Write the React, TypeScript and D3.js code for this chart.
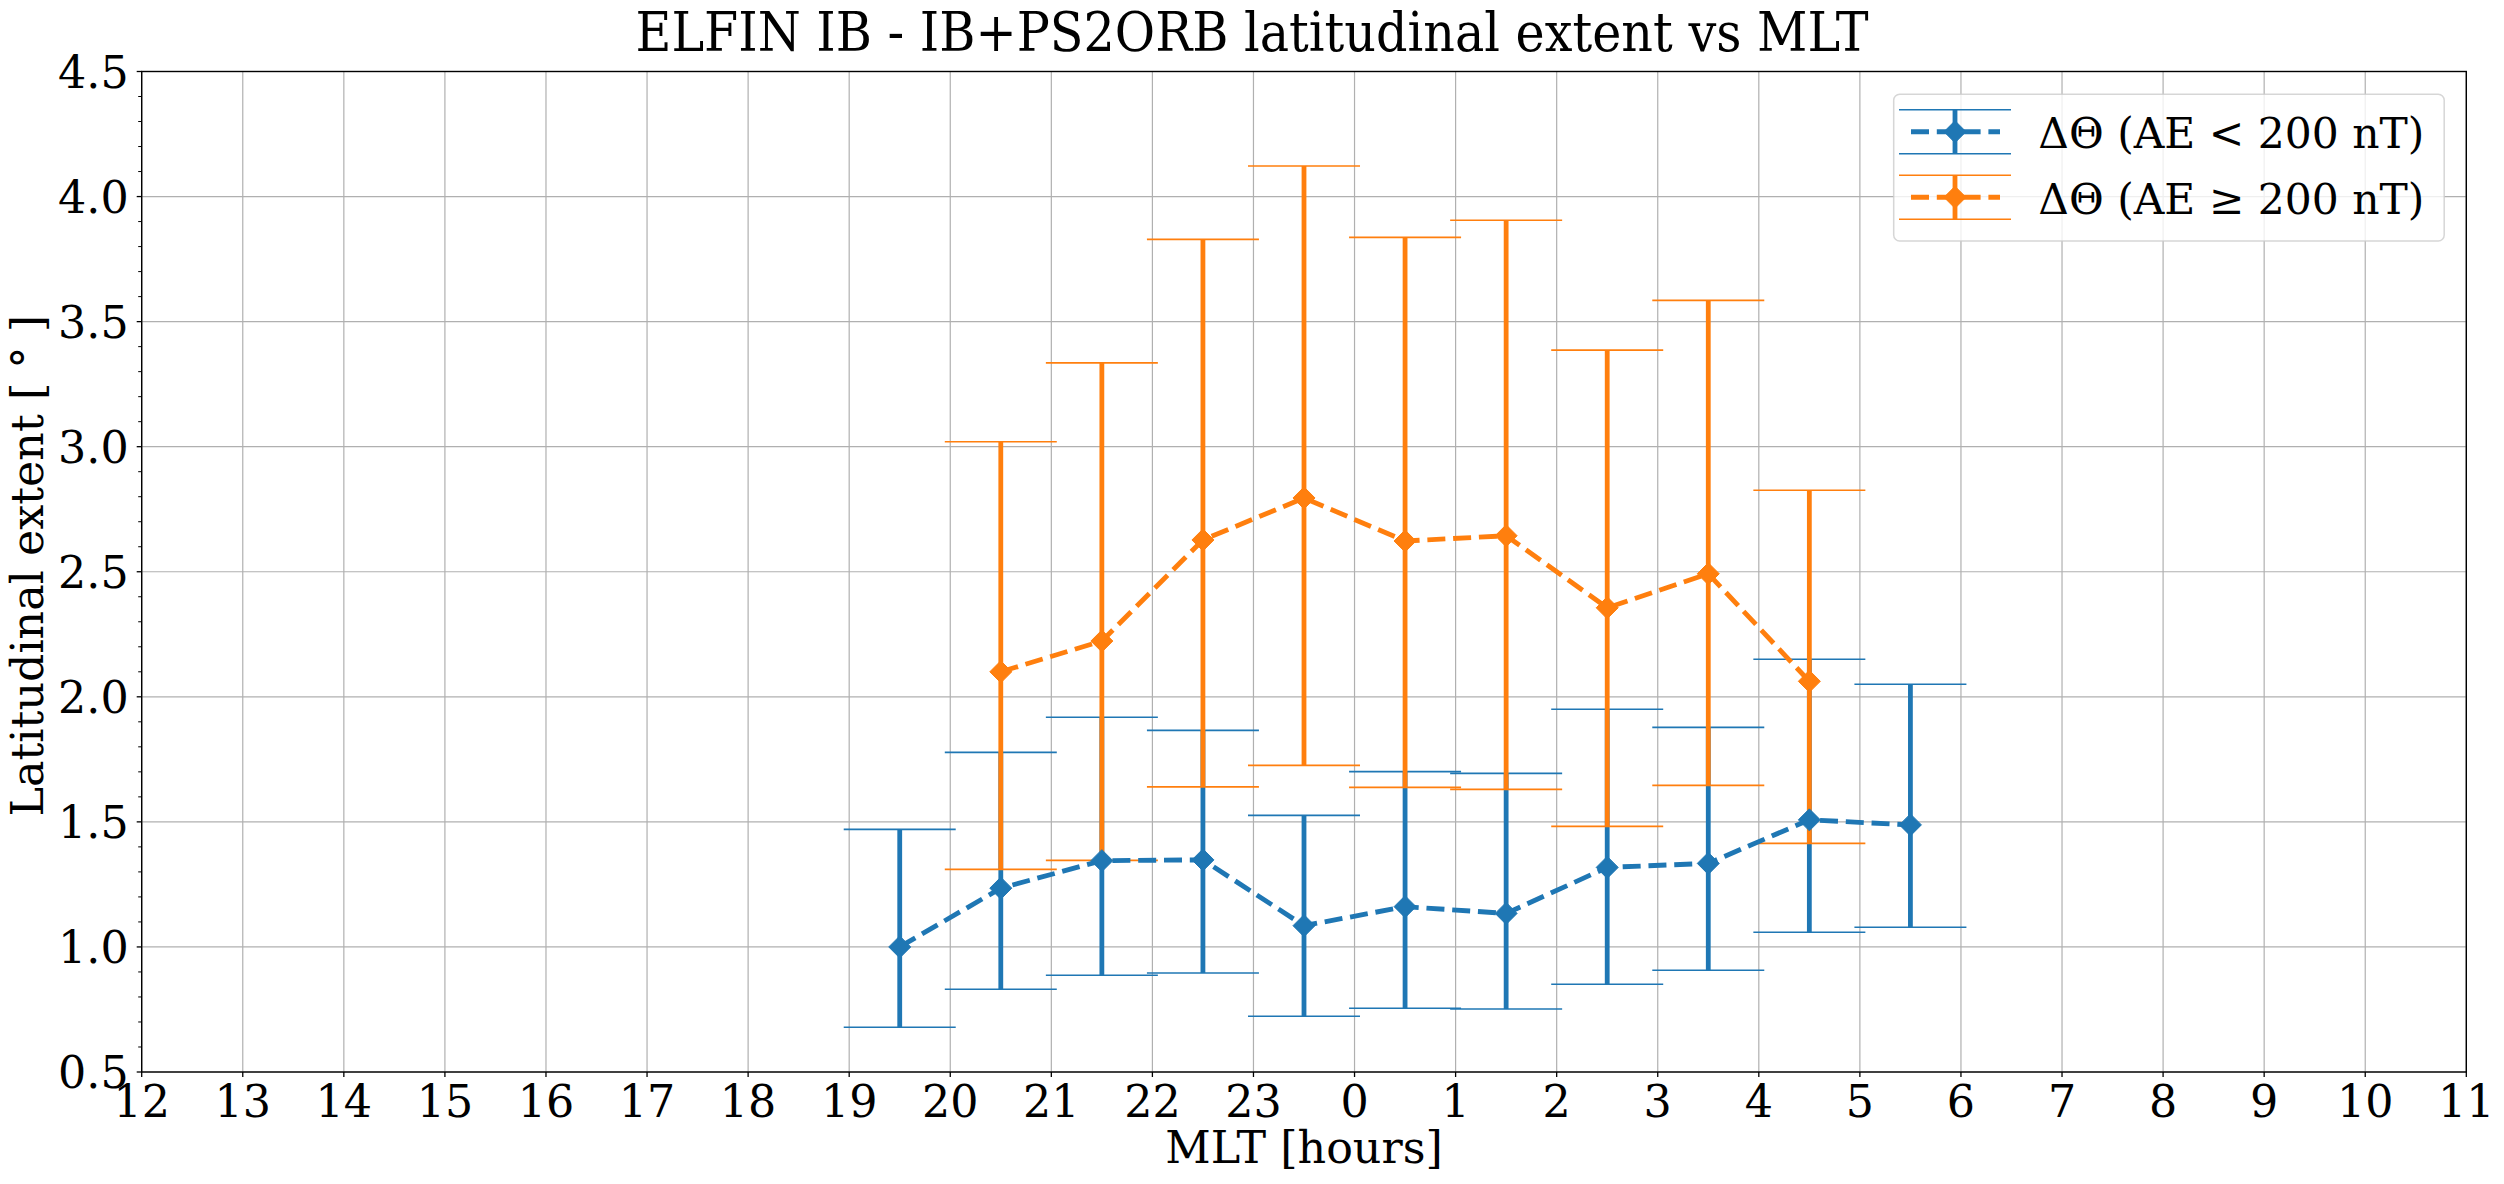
import React from "react";
import * as d3 from "d3";

// ---- data ----
const hourTickLabels = [12, 13, 14, 15, 16, 17, 18, 19, 20, 21, 22, 23, 0, 1, 2, 3, 4, 5, 6, 7, 8, 9, 10, 11];
const yTickValues = [0.5, 1.0, 1.5, 2.0, 2.5, 3.0, 3.5, 4.0, 4.5];

const lowAeMlt = [19.5, 20.5, 21.5, 22.5, 23.5, 0.5, 1.5, 2.5, 3.5, 4.5, 5.5];
const lowAeMean = [1.0, 1.235, 1.345, 1.348, 1.085, 1.161, 1.134, 1.318, 1.334, 1.508, 1.488];
const lowAeUpper = [1.47, 1.778, 1.918, 1.866, 1.526, 1.701, 1.694, 1.95, 1.878, 2.15, 2.05];
const lowAeLower = [0.679, 0.831, 0.887, 0.896, 0.723, 0.755, 0.752, 0.851, 0.907, 1.059, 1.079];

const highAeMlt = [20.5, 21.5, 22.5, 23.5, 0.5, 1.5, 2.5, 3.5, 4.5];
const highAeMean = [2.1, 2.223, 2.627, 2.795, 2.623, 2.644, 2.356, 2.492, 2.062];
const highAeUpper = [3.02, 3.335, 3.829, 4.122, 3.837, 3.905, 3.386, 3.585, 2.826];
const highAeLower = [1.31, 1.346, 1.64, 1.726, 1.638, 1.63, 1.482, 1.646, 1.414];

const titleText = "ELFIN IB - IB+PS2ORB latitudinal extent vs MLT";
const xLabelText = "MLT [hours]";
const yLabelText = "Latitudinal extent [ ° ]";
const legendLabels = ["ΔΘ (AE < 200 nT)", "ΔΘ (AE ≥ 200 nT)"];

// ---- layout ----
const W = 2504;
const H = 1184;
const left = 141.7;
const right = 2466.3;
const top = 71.5;
const bottom = 1072;
const BLUE = "#1f77b4";
const ORANGE = "#ff7f0e";
const SERIF = "'DejaVu Serif', serif";

const mltToIndex = (h: number) => (h - 12 + 24) % 24;

const x = d3.scaleLinear().domain([0, 23]).range([left, right]);
const y = d3.scaleLinear().domain([0.5, 4.5]).range([bottom, top]);

type Series = { mlt: number[]; mean: number[]; upper: number[]; lower: number[]; color: string };
const series: Series[] = [
  { mlt: lowAeMlt, mean: lowAeMean, upper: lowAeUpper, lower: lowAeLower, color: BLUE },
  { mlt: highAeMlt, mean: highAeMean, upper: highAeUpper, lower: highAeLower, color: ORANGE },
];

const CAP = 56;
const MR = 11;
const diamond = (cx: number, cy: number, r: number) =>
  `M${cx},${cy - r}L${cx + r},${cy}L${cx},${cy + r}L${cx - r},${cy}Z`;

function ErrorBars({ s }: { s: Series }) {
  return (
    <g>
      {s.mlt.map((h, i) => {
        const cx = x(mltToIndex(h));
        return (
          <g key={i}>
            <line x1={cx} x2={cx} y1={y(s.lower[i])} y2={y(s.upper[i])} stroke={s.color} strokeWidth={4.8} />
            <line x1={cx - CAP} x2={cx + CAP} y1={y(s.lower[i])} y2={y(s.lower[i])} stroke={s.color} strokeWidth={1.6} />
            <line x1={cx - CAP} x2={cx + CAP} y1={y(s.upper[i])} y2={y(s.upper[i])} stroke={s.color} strokeWidth={1.6} />
          </g>
        );
      })}
    </g>
  );
}

function DataLine({ s }: { s: Series }) {
  const pts: [number, number][] = s.mlt.map((h, i) => [x(mltToIndex(h)), y(s.mean[i])]);
  const path = d3.line()(pts) || "";
  return (
    <g>
      <path d={path} fill="none" stroke={s.color} strokeWidth={4.86} strokeDasharray="18,7.8" />
      {pts.map((p, i) => (
        <path key={i} d={diamond(p[0], p[1], MR)} fill={s.color} stroke={s.color} strokeWidth={1} />
      ))}
    </g>
  );
}

export default function App() {
  const minorTicks = d3.range(5, 46).map((v) => v / 10).filter((v) => Math.round(v * 10) % 5 !== 0);
  const legendX = 1893.7;
  const legendY = 94.3;
  const legendW = 550.5;
  const legendH = 146.7;
  const rows = [131.7, 197.3];
  const hx = 1955;
  return (
    <svg width={W} height={H} style={{ position: "absolute", left: 0, top: 0, background: "#fff" }}>
      <rect x={0} y={0} width={W} height={H} fill="#fff" />
      {/* grid */}
      <g stroke="#b0b0b0" strokeWidth={1.2}>
        {hourTickLabels.map((_, i) => (
          <line key={"gx" + i} x1={x(i)} x2={x(i)} y1={top} y2={bottom} />
        ))}
        {yTickValues.map((v) => (
          <line key={"gy" + v} x1={left} x2={right} y1={y(v)} y2={y(v)} />
        ))}
      </g>
      {/* error bars first, then lines with markers */}
      {series.map((s, i) => (
        <ErrorBars key={"eb" + i} s={s} />
      ))}
      {series.map((s, i) => (
        <DataLine key={"dl" + i} s={s} />
      ))}
      {/* spines */}
      <rect x={left} y={top} width={right - left} height={bottom - top} fill="none" stroke="#000" strokeWidth={1.4} />
      {/* x ticks */}
      <g>
        {hourTickLabels.map((lab, i) => (
          <g key={"xt" + i}>
            <line x1={x(i)} x2={x(i)} y1={bottom} y2={bottom + 5} stroke="#000" strokeWidth={1.3} />
            <text x={x(i)} y={1116.5} textAnchor="middle" fontFamily={SERIF} fontSize={44.4} fill="#000">
              {lab}
            </text>
          </g>
        ))}
      </g>
      {/* y ticks */}
      <g>
        {yTickValues.map((v) => (
          <g key={"yt" + v}>
            <line x1={left - 5} x2={left} y1={y(v)} y2={y(v)} stroke="#000" strokeWidth={1.3} />
            <text x={left - 13} y={y(v) + 16.3} textAnchor="end" fontFamily={SERIF} fontSize={44.4} fill="#000">
              {v.toFixed(1)}
            </text>
          </g>
        ))}
        {minorTicks.map((v) => (
          <line key={"ym" + v} x1={left - 3.5} x2={left} y1={y(v)} y2={y(v)} stroke="#000" strokeWidth={1} />
        ))}
      </g>
      {/* axis labels */}
      <text x={(left + right) / 2} y={1163} textAnchor="middle" fontFamily={SERIF} fontSize={44.4} fill="#000">
        {xLabelText}
      </text>
      <text
        transform={`translate(43, ${(top + bottom) / 2 - 6}) rotate(-90)`}
        textAnchor="middle"
        fontFamily={SERIF}
        fontSize={44.4}
        fill="#000"
      >
        {yLabelText}
      </text>
      {/* title */}
      <text
        x={W / 2}
        y={51}
        textAnchor="middle"
        fontFamily="'DejaVu Serif Condensed', 'DejaVu Serif', serif"
        fontSize={54}
        textLength={1233}
        lengthAdjust="spacingAndGlyphs"
        fill="#000"
      >
        {titleText}
      </text>
      {/* legend */}
      <rect
        x={legendX}
        y={legendY}
        width={legendW}
        height={legendH}
        rx={6}
        fill="#fff"
        fillOpacity={0.8}
        stroke="#cccccc"
        strokeOpacity={0.8}
        strokeWidth={1.5}
      />
      {series.map((s, i) => {
        const cy = rows[i];
        return (
          <g key={"lg" + i}>
            <line x1={hx} x2={hx} y1={cy - 22} y2={cy + 22} stroke={s.color} strokeWidth={4.8} />
            <line x1={hx - 56} x2={hx + 56} y1={cy - 22} y2={cy - 22} stroke={s.color} strokeWidth={1.6} />
            <line x1={hx - 56} x2={hx + 56} y1={cy + 22} y2={cy + 22} stroke={s.color} strokeWidth={1.6} />
            <line x1={1911} x2={2000} y1={cy} y2={cy} stroke={s.color} strokeWidth={4.86} strokeDasharray="18,7.8" />
            <path d={diamond(hx, cy, MR)} fill={s.color} stroke={s.color} strokeWidth={1} />
            <text
              x={2038.3}
              y={cy + 16.6}
              fontFamily={SERIF}
              fontSize={42}
              textLength={386}
              lengthAdjust="spacingAndGlyphs"
              fill="#000"
            >
              {legendLabels[i]}
            </text>
          </g>
        );
      })}
    </svg>
  );
}
